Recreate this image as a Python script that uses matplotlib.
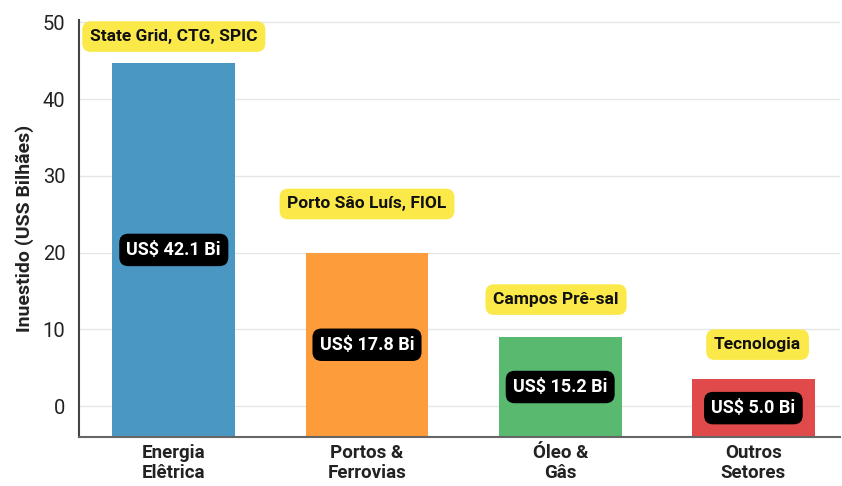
import matplotlib.pyplot as plt

plt.rcParams['font.family'] = ['Roboto', 'DejaVu Sans']

# data
categories = ['Energia\nElêtrica', 'Portos &\nFerrovias', 'Óleo &\nGâs', 'Outros\nSetores']
bar_tops = [44.7, 20.0, 9.0, 3.5]
value_labels = ['US$ 42.1 Bi', 'US$ 17.8 Bi', 'US$ 15.2 Bi', 'US$ 5.0 Bi']
project_labels = ['State Grid, CTG, SPIC', 'Porto Sâo Luís, FIOL', 'Campos Prê-sal', 'Tecnologia']
colors = ['#4a97c4', '#fd9c3a', '#58b96f', '#e04a4a']

y_floor = -4
label_gap_pts = [19, 35, 27, 25]   # vertical gap of the yellow tag above each bar
label_dx = [0, 0, -3, 3]

fig = plt.figure(figsize=(8.42, 4.86), dpi=100)
ax = fig.add_axes([0.094, 0.101, 0.904, 0.858])

x = range(len(categories))
heights = [t - y_floor for t in bar_tops]
ax.bar(x, heights, bottom=y_floor, width=0.635, color=colors, zorder=2)

# value tags in the middle of each bar
for i, (top, txt) in enumerate(zip(bar_tops, value_labels)):
    ax.text(i, (top + y_floor) / 2, txt, ha='center', va='center', color='white',
            fontsize=13, fontweight='bold', zorder=4,
            bbox=dict(boxstyle='round,pad=0.4,rounding_size=0.5', fc='black', ec='none'))

# yellow project tags above each bar
for i, (top, txt) in enumerate(zip(bar_tops, project_labels)):
    ax.annotate(txt, xy=(i, top), xytext=(label_dx[i], label_gap_pts[i]),
                textcoords='offset points', ha='center', va='center',
                fontsize=12.5, fontweight='bold', color='#111111', zorder=5,
                annotation_clip=False,
                bbox=dict(boxstyle='round,pad=0.45,rounding_size=0.5', fc='#fbe94a', ec='none'))

ax.set_ylim(y_floor, 50.3)
ax.set_xlim(-0.49, 3.45)
ax.set_yticks([0, 10, 20, 30, 40, 50])
ax.set_xticks(list(x))
ax.set_xticklabels(categories, fontsize=13.5, fontweight='bold', color='#222222', linespacing=1.15)
ax.tick_params(axis='y', labelsize=14.5, length=0, pad=10, labelcolor='#222222')
ax.tick_params(axis='x', length=0, pad=5)
ax.set_ylabel('Inuestido (USS Bilhães)', fontsize=14, fontweight='bold', color='#222222', labelpad=6)

ax.grid(axis='y', color='#e6e6e6', linewidth=1, zorder=0)
for side in ['top', 'right']:
    ax.spines[side].set_visible(False)
ax.spines['left'].set_color('#444444')
ax.spines['bottom'].set_color('#666666')
ax.spines['left'].set_linewidth(1.5)
ax.spines['bottom'].set_linewidth(1.5)

fig.savefig('out.png', dpi=100)
